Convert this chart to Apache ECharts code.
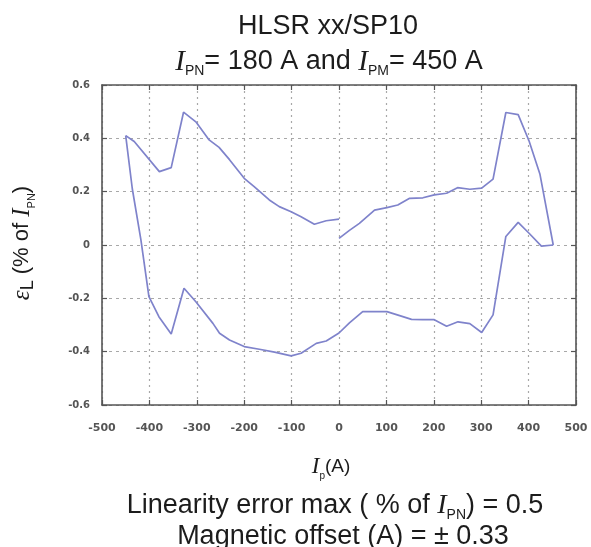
<!DOCTYPE html>
<html><head><meta charset="utf-8">
<script src="https://cdn.jsdelivr.net/npm/echarts@6/dist/echarts.min.js"></script>
<style>html,body{margin:0;padding:0;background:#fff}#c{width:591px;height:547px}</style>
</head><body><div id="c"></div>
<script>
// Ip (A) and linearity error (% of IPN) — rising sweep 0 -> +450
const risingX = [0, 22, 43, 75, 101, 124, 149, 177, 201, 227, 250, 276, 301, 325, 352, 378, 401, 424, 452];
const risingY = [0.025, 0.055, 0.081, 0.131, 0.140, 0.150, 0.175, 0.177, 0.188, 0.194, 0.215, 0.209, 0.213, 0.247, 0.497, 0.489, 0.390, 0.265, 0.0];
// falling sweep +450 -> -450
const fallingX = [452, 427, 401, 378, 352, 325, 301, 276, 251, 227, 201, 176, 153, 128, 101, 50, 22, 0, -27, -48, -80, -101, -136, -168, -200, -231, -252, -266, -302, -327, -354, -380, -401, -418, -436, -450];
const fallingY = [0.0, -0.004, 0.044, 0.085, 0.032, -0.262, -0.328, -0.295, -0.288, -0.305, -0.280, -0.280, -0.279, -0.265, -0.250, -0.250, -0.292, -0.330, -0.360, -0.369, -0.406, -0.416, -0.402, -0.391, -0.381, -0.356, -0.331, -0.294, -0.213, -0.162, -0.334, -0.269, -0.194, 0.020, 0.210, 0.410];
// rising sweep -450 -> 0
const upperLeftX = [-450, -432, -379, -354, -328, -302, -274, -253, -231, -200, -179, -147, -126, -101, -80, -52, -27, 0];
const upperLeftY = [0.410, 0.388, 0.275, 0.290, 0.498, 0.462, 0.394, 0.366, 0.320, 0.250, 0.219, 0.169, 0.144, 0.125, 0.106, 0.078, 0.091, 0.097];

const titleLine1 = 'HLSR xx/SP10';
const footLine2 = 'Magnetic offset (A) = ± 0.33';

const LINE = '#7f83cb';
const pairs = (xs, ys) => xs.map((v, i) => [v, ys[i]]);

const chart = echarts.init(document.getElementById('c'), null, {renderer: 'canvas'});

const SANS = '"Liberation Sans", Arial, sans-serif';
const SERIF = '"Liberation Serif", "Times New Roman", serif';
const TXT = '#1c1c1c';

function richSet(base, italic, sub, lh, sub2) {
  return {
    t: {fontFamily: SANS, fontSize: base, fill: TXT, lineHeight: lh, verticalAlign: 'middle'},
    i: {fontFamily: SERIF, fontStyle: 'italic', fontSize: italic, fill: TXT, lineHeight: lh, verticalAlign: 'middle'},
    s: {fontFamily: SANS, fontSize: sub, fill: TXT, lineHeight: Math.round(sub * 1.15), verticalAlign: 'bottom'},
    b: {fontFamily: SANS, fontSize: sub2 || sub, fill: TXT, lineHeight: Math.round(lh * 0.9), verticalAlign: 'bottom'}
  };
}

const frameLine = {color: '#555', width: 1.6};
const commonX = {type: 'value', min: -500, max: 500, interval: 100};
const commonY = {type: 'value', min: -0.6, max: 0.6, interval: 0.2};
const yFmt = v => { const r = Math.round(v * 10) / 10; return r === 0 ? '0' : r.toFixed(1); };
const tick = {show: true, inside: true, length: 5, lineStyle: {color: '#555', width: 1.2}};

chart.setOption({
  animation: false,
  grid: {left: 102, top: 85, width: 474, height: 320},
  xAxis: [
    Object.assign({}, commonX, {
      position: 'bottom',
      axisLine: {show: true, onZero: false, lineStyle: frameLine},
      axisTick: tick,
      axisLabel: {show: true, margin: 18, fontFamily: '"DejaVu Sans", sans-serif', fontWeight: 'bold', fontSize: 11, color: '#555'},
      splitLine: {show: true, lineStyle: {color: '#a8a8a8', type: [2, 4], width: 1.2}}
    }),
    Object.assign({}, commonX, {
      position: 'top',
      axisLine: {show: true, onZero: false, lineStyle: frameLine},
      axisTick: tick, axisLabel: {show: false}, splitLine: {show: false}
    })
  ],
  yAxis: [
    Object.assign({}, commonY, {
      position: 'left',
      axisLine: {show: true, onZero: false, lineStyle: frameLine},
      axisTick: tick,
      axisLabel: {show: true, margin: 12, fontFamily: '"DejaVu Sans", sans-serif', fontWeight: 'bold', fontSize: 10, color: '#555', formatter: yFmt},
      splitLine: {show: true, lineStyle: {color: '#a8a8a8', type: [3, 4], width: 1.2}}
    }),
    Object.assign({}, commonY, {
      position: 'right',
      axisLine: {show: true, onZero: false, lineStyle: frameLine},
      axisTick: tick, axisLabel: {show: false}, splitLine: {show: false}
    })
  ],
  series: [
    {type: 'line', data: pairs(risingX, risingY), showSymbol: false, lineStyle: {color: LINE, width: 1.7}, silent: true},
    {type: 'line', data: pairs(fallingX, fallingY), showSymbol: false, lineStyle: {color: LINE, width: 1.7}, silent: true},
    {type: 'line', data: pairs(upperLeftX, upperLeftY), showSymbol: false, lineStyle: {color: LINE, width: 1.7}, silent: true}
  ],
  graphic: [
    {type: 'text', x: 328, y: 27, style: {text: titleLine1, font: '27px ' + SANS, fill: TXT, align: 'center', verticalAlign: 'middle'}},
    {type: 'text', x: 329, y: 62, style: {
      text: '{i|I}{s|PN}{t|= 180 A and }{i|I}{s|PM}{t|= 450 A}',
      align: 'center', verticalAlign: 'middle', rich: richSet(27, 29, 14, 32)}},
    {type: 'text', x: 22, y: 243, rotation: Math.PI / 2, style: {
      text: '{i|ε}{b|L}{t| (% of }{i|I}{s|PN}{t|)}',
      align: 'center', verticalAlign: 'middle', rich: richSet(22, 25, 11, 30, 18)}},
    {type: 'text', x: 331, y: 467, style: {
      text: '{i|I}{s|p}{t|(A)}',
      align: 'center', verticalAlign: 'middle', rich: richSet(19, 23, 10, 28)}},
    {type: 'text', x: 335, y: 506, style: {
      text: '{t|Linearity error max ( % of }{i|I}{s|PN}{t|) = 0.5}',
      align: 'center', verticalAlign: 'middle', rich: richSet(27, 28, 14, 32)}},
    {type: 'text', x: 343, y: 537, style: {text: footLine2, font: '27px ' + SANS, fill: TXT, align: 'center', verticalAlign: 'middle'}}
  ]
});
</script></body></html>
